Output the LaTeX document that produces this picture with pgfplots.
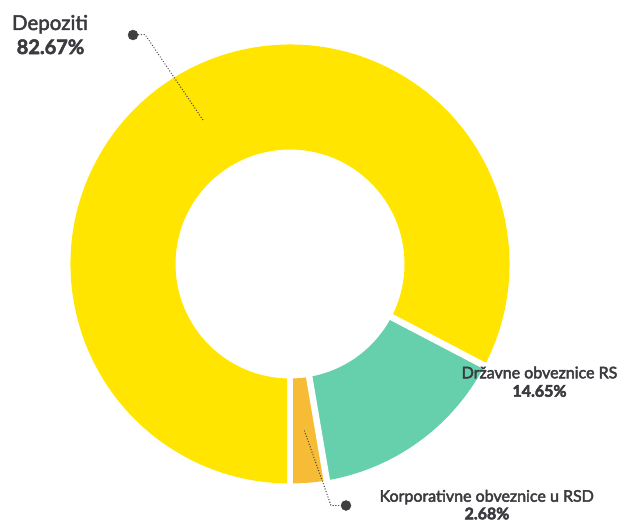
\documentclass[border=0pt]{standalone}
\usepackage{pgfplots}
\pgfplotsset{compat=1.18}
\usepackage{pgfplotstable}
\usepackage{fontspec}
\setmainfont{Lato}
\newcommand\medtext[1]{\special{pdf:literal direct 2 Tr 0.45 w}#1\special{pdf:literal direct 0 Tr}}
\newcommand\boldtext[1]{\special{pdf:literal direct 2 Tr 0.5 w}#1\special{pdf:literal direct 0 Tr}}
\definecolor{cYellow}{HTML}{FFE500}
\definecolor{cGreen}{HTML}{66CFAB}
\definecolor{cOrange}{HTML}{F7BC35}
\definecolor{cText}{HTML}{3A3A3F}
\definecolor{cLead}{HTML}{404040}

\pgfplotstableread{
name share
Korporativne 2.68
Drzavne 14.65
Depoziti 82.67
}\pietable

\begin{document}
\begin{tikzpicture}
\pgfplotstablegetelem{0}{share}\of\pietable \let\vA\pgfplotsretval
\pgfplotstablegetelem{1}{share}\of\pietable \let\vB\pgfplotsretval
\pgfplotstablegetelem{2}{share}\of\pietable \let\vC\pgfplotsretval
\pgfmathsetmacro\aZero{270}
\pgfmathsetmacro\aOne{\aZero+3.6*\vA}
\pgfmathsetmacro\aTwo{\aOne+3.6*\vB}
\pgfmathsetmacro\aThree{\aTwo+3.6*\vC}
\def\R{219.5pt}
\def\r{114.5pt}
\def\W{105pt}
\begin{axis}[
  width=620pt, height=522pt, scale only axis,
  xmin=0, xmax=620, ymin=0, ymax=522, y dir=reverse,
  hide axis, clip=false,
]
% slices
\fill[cOrange] (axis cs:290,264) ++(\aZero:\R) arc[start angle=\aZero, end angle=\aOne, radius=\R] -- ++(\aOne+180:\W) arc[start angle=\aOne, end angle=\aZero, radius=\r] -- cycle;
\fill[cGreen] (axis cs:290,264) ++(\aOne:\R) arc[start angle=\aOne, end angle=\aTwo, radius=\R] -- ++(\aTwo+180:\W) arc[start angle=\aTwo, end angle=\aOne, radius=\r] -- cycle;
\fill[cYellow] (axis cs:290,264) ++(\aTwo:\R) arc[start angle=\aTwo, end angle=\aThree, radius=\R] -- ++(\aThree+180:\W) arc[start angle=\aThree, end angle=\aTwo, radius=\r] -- cycle;
% separators
\draw[white, line width=6.5pt] (axis cs:290,264) ++(\aZero:110pt) -- ++(\aZero:115pt);
\draw[white, line width=6.5pt] (axis cs:290,264) ++(\aOne:110pt) -- ++(\aOne:115pt);
\draw[white, line width=6.5pt] (axis cs:290,264) ++(\aTwo:110pt) -- ++(\aTwo:115pt);
% leader lines
\addplot[cLead, line width=1.4pt, dash pattern=on 0pt off 2.8pt, line cap=round] coordinates {(133,35) (145,34.5) (204,121.5)};
\addplot[cLead, line width=1.4pt, dash pattern=on 0pt off 2.8pt, line cap=round] coordinates {(304.5,431) (331,505.5) (346,505.5)};
\addplot[only marks, mark=*, mark size=5pt, cLead, mark options={fill=cLead, draw=cLead}] coordinates {(133,35) (346,505.5)};
% labels
\node[anchor=base, text=cText, font=\fontsize{20.5}{24}\selectfont, inner sep=0pt] at (axis cs:50,30) {\medtext{Depoziti}};
\node[anchor=base, text=cText, font=\fontsize{20}{24}\selectfont\bfseries, inner sep=0pt] at (axis cs:50.5,54) {\boldtext{82.67\%}};
\node[anchor=base, text=cText, font=\fontsize{16}{19}\selectfont, inner sep=0pt] at (axis cs:539.5,378.3) {\medtext{Državne obveznice RS}};
\node[anchor=base, text=cText, font=\fontsize{16}{19}\selectfont\bfseries, inner sep=0pt] at (axis cs:539.5,396.7) {\boldtext{14.65\%}};
\node[anchor=base, text=cText, font=\fontsize{16}{19}\selectfont, inner sep=0pt] at (axis cs:486.7,501.7) {\medtext{Korporativne obveznice u RSD}};
\node[anchor=base, text=cText, font=\fontsize{16}{19}\selectfont\bfseries, inner sep=0pt] at (axis cs:487,519.3) {\boldtext{2.68\%}};
\end{axis}
\pgfresetboundingbox
\path[use as bounding box] (0,0) rectangle (620pt,522pt);
\end{tikzpicture}
\end{document}
